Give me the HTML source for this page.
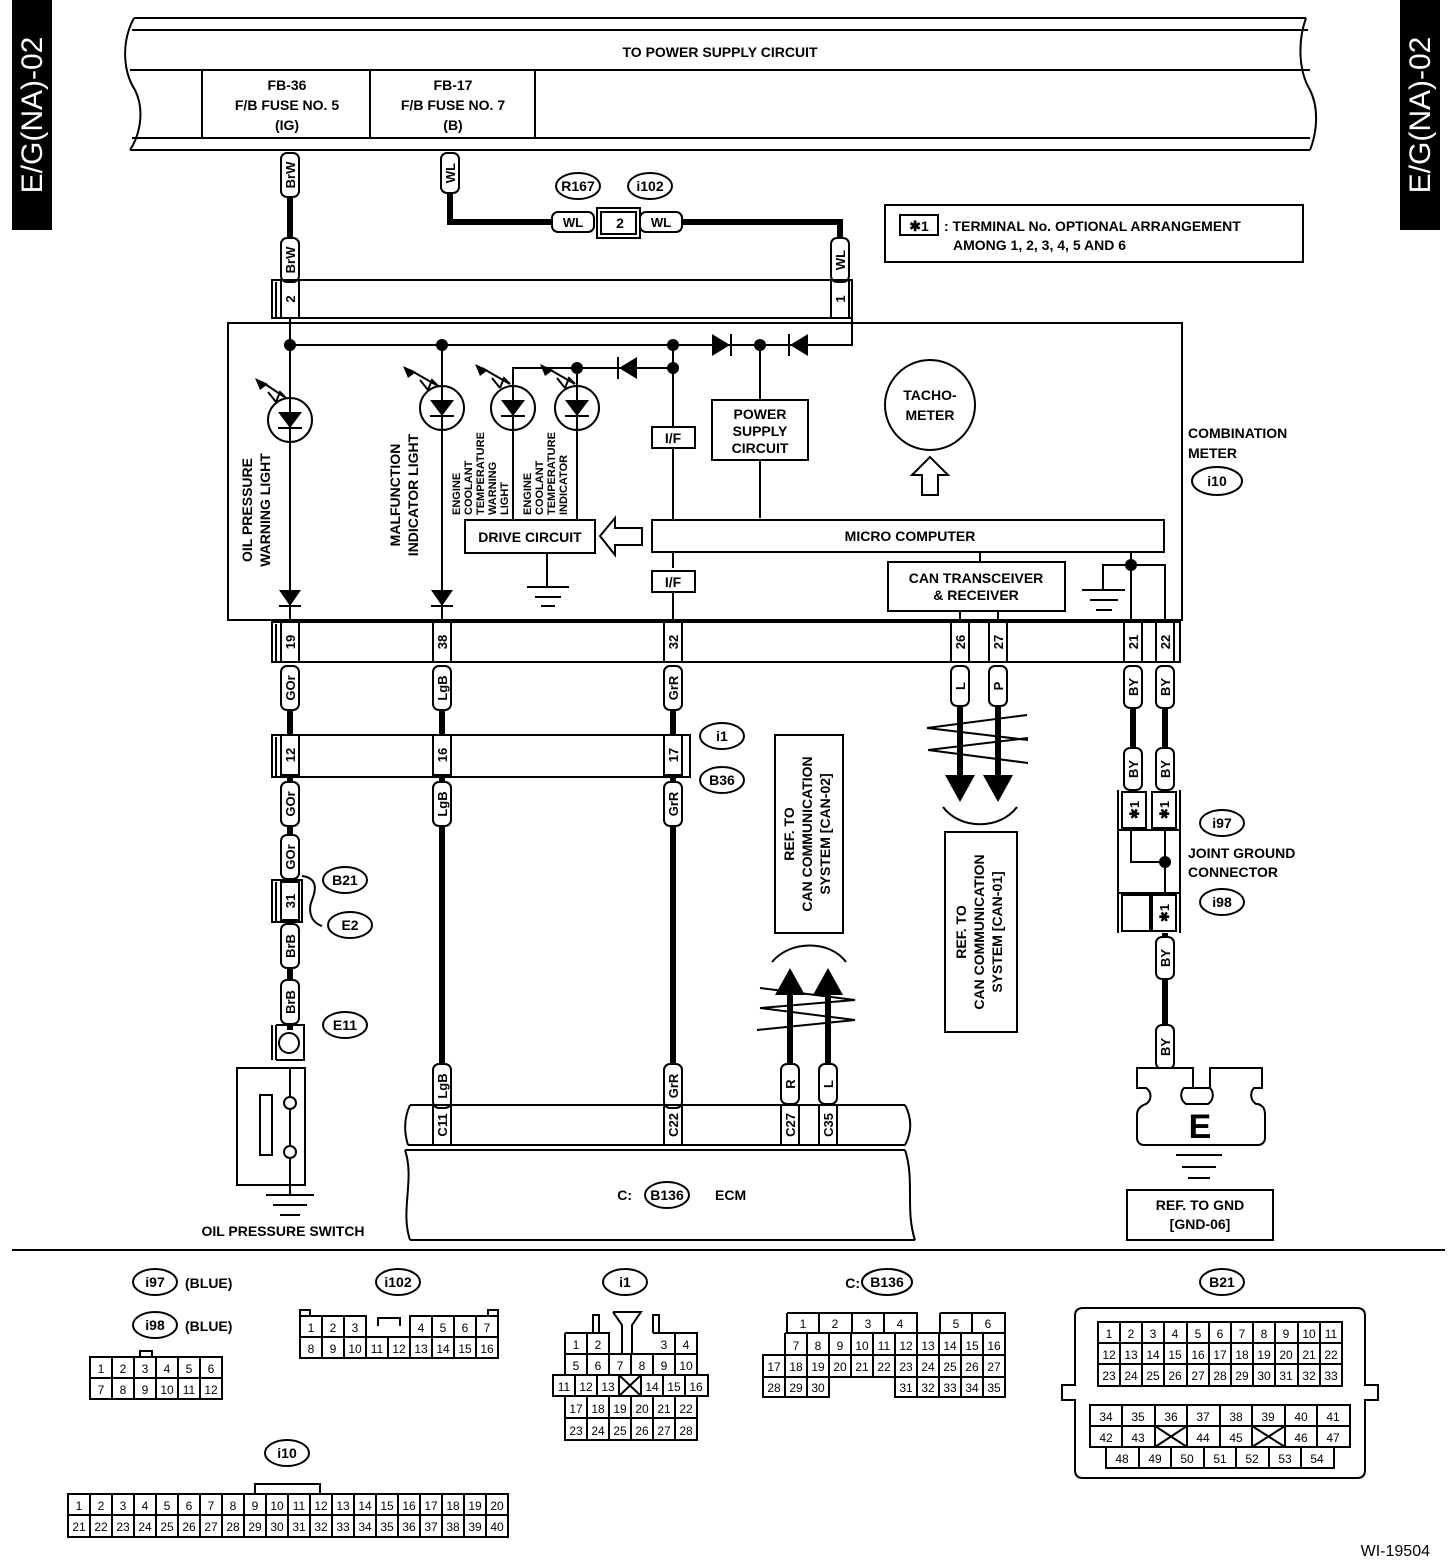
<!DOCTYPE html>
<html><head><meta charset="utf-8"><style>
html,body{margin:0;padding:0;background:#fff}
svg{display:block}
text{font-family:"Liberation Sans",Arial,sans-serif;font-weight:bold;font-size:14px;fill:#000}
.s{fill:none;stroke:#000;stroke-width:2}
.w{fill:#fff;stroke:#000;stroke-width:2}
.t{fill:none;stroke:#000;stroke-width:6}
.c text{font-size:12px;font-weight:normal}
.p{font-size:13px}
</style></head><body>
<svg width="1456" height="1566" viewBox="0 0 1456 1566" xmlns="http://www.w3.org/2000/svg">
<!-- side tabs -->
<rect x="12" y="0" width="40" height="230" fill="#000"/>
<text transform="translate(42,115) rotate(-90)" text-anchor="middle" style="fill:#fff;font-size:30px;font-weight:normal">E/G(NA)-02</text>
<rect x="1400" y="0" width="40" height="230" fill="#000"/>
<text transform="translate(1430,115) rotate(-90)" text-anchor="middle" style="fill:#fff;font-size:30px;font-weight:normal">E/G(NA)-02</text>

<!-- top power box -->
<path class="s" d="M134,18 L1306,18 M132,30 L1308,30 M130,70 L1310,70 M132,138 L1310,138 M130,150 L1310,150"/>
<path class="s" d="M134,18 C122,40 122,70 135,90 C145,110 140,135 130,150"/>
<path class="s" d="M1306,18 C1298,40 1298,70 1310,90 C1320,110 1316,135 1310,150"/>
<path class="s" d="M202,70 V138 M370,70 V138 M535,70 V138"/>
<text x="720" y="57" text-anchor="middle">TO POWER SUPPLY CIRCUIT</text>
<text x="287" y="90" text-anchor="middle">FB-36</text>
<text x="287" y="110" text-anchor="middle">F/B FUSE NO. 5</text>
<text x="287" y="130" text-anchor="middle">(IG)</text>
<text x="453" y="90" text-anchor="middle">FB-17</text>
<text x="453" y="110" text-anchor="middle">F/B FUSE NO. 7</text>
<text x="453" y="130" text-anchor="middle">(B)</text>

<!-- top wires -->
<path class="t" d="M290,190 V245"/>
<path class="t" d="M450,190 V222 H555"/>
<path class="t" d="M682,222 H840 V245"/>
<g>
<rect class="w" x="281" y="153" width="18" height="44" rx="6"/><text class="p" transform="translate(295,175) rotate(-90)" text-anchor="middle">BrW</text>
<rect class="w" x="281" y="238" width="18" height="44" rx="6"/><text class="p" transform="translate(295,260) rotate(-90)" text-anchor="middle">BrW</text>
<rect class="w" x="441" y="153" width="18" height="40" rx="6"/><text class="p" transform="translate(455,173) rotate(-90)" text-anchor="middle">WL</text>
<rect class="w" x="831" y="238" width="18" height="44" rx="6"/><text class="p" transform="translate(845,260) rotate(-90)" text-anchor="middle">WL</text>
<rect class="w" x="552" y="212" width="42" height="20" rx="6"/><text class="p" x="573" y="227" text-anchor="middle">WL</text>
<rect class="w" x="640" y="212" width="42" height="20" rx="6"/><text class="p" x="661" y="227" text-anchor="middle">WL</text>
<rect class="w" x="597" y="208" width="43" height="30"/><rect class="s" x="601" y="212" width="35" height="22"/><text x="620" y="228" text-anchor="middle">2</text>
</g>
<ellipse class="w" cx="578" cy="186" rx="22" ry="13"/><text x="578" y="191" text-anchor="middle">R167</text>
<ellipse class="w" cx="650" cy="186" rx="22" ry="13"/><text x="650" y="191" text-anchor="middle">i102</text>

<!-- note -->
<rect class="s" x="885" y="205" width="418" height="57"/>
<rect class="s" x="900" y="215" width="38" height="20"/><text x="919" y="231" text-anchor="middle">✱1</text>
<text x="944" y="231">: TERMINAL No. OPTIONAL ARRANGEMENT</text>
<text x="953" y="250">AMONG 1, 2, 3, 4, 5 AND 6</text>

<!-- upper connector -->
<path class="s" d="M272,280 H852 V318 H272 Z M276,282 V318"/>
<rect class="s" x="281" y="280" width="18" height="38"/><text class="p" transform="translate(295,299) rotate(-90)" text-anchor="middle">2</text>
<rect class="s" x="831" y="280" width="18" height="38"/><text class="p" transform="translate(845,299) rotate(-90)" text-anchor="middle">1</text>

<!-- combination meter -->
<rect class="s" x="228" y="323" width="954" height="297"/>
<path class="s" d="M290,318 V598 M290,345 H852 V318 M442,345 V598 M673,345 V568 M673,593 V622 M760,345 V518 M673,368 H513 V520 M577,368 V520"/>
<circle cx="290" cy="345" r="6"/><circle cx="442" cy="345" r="6"/><circle cx="673" cy="345" r="6"/><circle cx="760" cy="345" r="6"/>
<circle cx="577" cy="368" r="6"/><circle cx="673" cy="368" r="6"/>
<!-- diodes -->
<path d="M712,334 L712,356 L730,345 Z"/><path class="s" d="M731,334 V356"/>
<path d="M808,334 L808,356 L790,345 Z"/><path class="s" d="M789,334 V356"/>
<path d="M637,357 L637,379 L619,368 Z"/><path class="s" d="M618,357 V379"/>
<!-- LEDs -->
<g>
<circle class="w" cx="290" cy="420" r="22"/><path d="M278,412 H302 L290,428 Z"/><path class="s" d="M278,428 H302"/>
<circle class="w" cx="442" cy="408" r="22"/><path d="M430,400 H454 L442,416 Z"/><path class="s" d="M430,416 H454"/>
<circle class="w" cx="513" cy="408" r="22"/><path d="M501,400 H525 L513,416 Z"/><path class="s" d="M501,416 H525"/>
<circle class="w" cx="577" cy="408" r="22"/><path d="M565,400 H589 L577,416 Z"/><path class="s" d="M565,416 H589"/>
<path class="s" d="M290,398 V442 M442,386 V430 M513,386 V430 M577,386 V430"/>
</g>
<g class="s">
<path d="M276,402 L268,392 M276,402 L280,392 L286,398 L262,382"/>
<path d="M428,390 L420,380 M428,390 L432,380 L438,386 L410,370"/>
<path d="M500,388 L492,378 M500,388 L504,378 L510,384 L482,368"/>
<path d="M565,388 L557,378 M565,388 L569,378 L575,384 L547,368"/>
</g>
<path d="M255,378 L268,384 L260,390 Z"/><path d="M403,366 L416,372 L408,378 Z"/><path d="M475,364 L488,370 L480,376 Z"/><path d="M540,364 L553,370 L545,376 Z"/>
<!-- arrows down (diodes) at bottom -->
<path d="M279,590 H301 L290,606 Z"/><path class="s" d="M279,606 H301"/>
<path d="M431,590 H453 L442,606 Z"/><path class="s" d="M431,606 H453"/>
<path class="s" d="M290,606 V622 M442,606 V622"/>
<!-- vertical labels -->
<text transform="translate(252,510) rotate(-90)" text-anchor="middle">OIL PRESSURE</text>
<text transform="translate(270,510) rotate(-90)" text-anchor="middle">WARNING LIGHT</text>
<text transform="translate(400,495) rotate(-90)" text-anchor="middle">MALFUNCTION</text>
<text transform="translate(418,495) rotate(-90)" text-anchor="middle">INDICATOR LIGHT</text>
<g style="font-size:11px">
<text transform="translate(460,515) rotate(-90)" style="font-size:11px">ENGINE</text>
<text transform="translate(472,515) rotate(-90)" style="font-size:11px">COOLANT</text>
<text transform="translate(484,515) rotate(-90)" style="font-size:11px">TEMPERATURE</text>
<text transform="translate(496,515) rotate(-90)" style="font-size:11px">WARNING</text>
<text transform="translate(508,515) rotate(-90)" style="font-size:11px">LIGHT</text>
<text transform="translate(531,515) rotate(-90)" style="font-size:11px">ENGINE</text>
<text transform="translate(543,515) rotate(-90)" style="font-size:11px">COOLANT</text>
<text transform="translate(555,515) rotate(-90)" style="font-size:11px">TEMPERATURE</text>
<text transform="translate(567,515) rotate(-90)" style="font-size:11px">INDICATOR</text>
</g>
<rect class="w" x="465" y="520" width="130" height="33"/><text x="530" y="542" text-anchor="middle">DRIVE CIRCUIT</text>
<path class="s" d="M547,553 V587 M527,587 H569 M535,597 H561 M541,606 H555"/>
<path class="w" d="M600,536 L615,518 V528 H642 V545 H615 V555 Z"/>
<rect class="w" x="652" y="427" width="43" height="21"/><text x="673" y="443" text-anchor="middle">I/F</text>
<rect class="w" x="652" y="571" width="43" height="21"/><text x="673" y="587" text-anchor="middle">I/F</text>
<rect class="w" x="652" y="520" width="512" height="32"/><text x="910" y="541" text-anchor="middle">MICRO COMPUTER</text>
<rect class="w" x="712" y="400" width="96" height="60"/>
<text x="760" y="419" text-anchor="middle">POWER</text><text x="760" y="436" text-anchor="middle">SUPPLY</text><text x="760" y="453" text-anchor="middle">CIRCUIT</text>
<circle class="w" cx="930" cy="405" r="45"/>
<text x="930" y="400" text-anchor="middle">TACHO-</text><text x="930" y="420" text-anchor="middle">METER</text>
<path class="w" d="M930,457 L912,475 H922 V495 H938 V475 H948 Z"/>
<rect class="w" x="888" y="562" width="177" height="49"/>
<text x="976" y="583" text-anchor="middle">CAN TRANSCEIVER</text><text x="976" y="600" text-anchor="middle">&amp; RECEIVER</text>
<path class="s" d="M980,552 V562 M960,611 V622 M998,611 V622"/>
<path class="s" d="M1131,552 V622 M1131,565 H1165 V622 M1131,565 H1103 V590 M1082,590 H1125 M1090,600 H1118 M1096,610 H1112"/>
<circle cx="1131" cy="565" r="6"/>
<text x="1188" y="438">COMBINATION</text><text x="1188" y="458">METER</text>
<ellipse class="w" cx="1217" cy="481" rx="25" ry="14"/><text x="1217" y="486" text-anchor="middle">i10</text>

<!-- lower meter connector -->
<path class="s" d="M272,622 H1180 V662 H272 Z M276,624 V662"/>
<g>
<rect class="s" x="281" y="622" width="18" height="40"/><text class="p" transform="translate(295,642) rotate(-90)" text-anchor="middle">19</text>
<rect class="s" x="433" y="622" width="18" height="40"/><text class="p" transform="translate(447,642) rotate(-90)" text-anchor="middle">38</text>
<rect class="s" x="664" y="622" width="18" height="40"/><text class="p" transform="translate(678,642) rotate(-90)" text-anchor="middle">32</text>
<rect class="s" x="951" y="622" width="18" height="40"/><text class="p" transform="translate(965,642) rotate(-90)" text-anchor="middle">26</text>
<rect class="s" x="989" y="622" width="18" height="40"/><text class="p" transform="translate(1003,642) rotate(-90)" text-anchor="middle">27</text>
<rect class="s" x="1124" y="622" width="18" height="40"/><text class="p" transform="translate(1138,642) rotate(-90)" text-anchor="middle">21</text>
<rect class="s" x="1156" y="622" width="18" height="40"/><text class="p" transform="translate(1170,642) rotate(-90)" text-anchor="middle">22</text>
</g>

<!-- wires middle -->
<path class="t" d="M290,700 V735 M290,777 V1030 M442,700 V735 M442,777 V1105 M673,700 V735 M673,777 V1105 M1133,700 V760 M1165,700 V760 M1165,980 V1030"/>
<g>
<rect class="w" x="281" y="666" width="18" height="44" rx="6"/><text class="p" transform="translate(295,688) rotate(-90)" text-anchor="middle">GOr</text>
<rect class="w" x="433" y="666" width="18" height="44" rx="6"/><text class="p" transform="translate(447,688) rotate(-90)" text-anchor="middle">LgB</text>
<rect class="w" x="664" y="666" width="18" height="44" rx="6"/><text class="p" transform="translate(678,688) rotate(-90)" text-anchor="middle">GrR</text>
<rect class="w" x="951" y="666" width="18" height="40" rx="6"/><text class="p" transform="translate(965,686) rotate(-90)" text-anchor="middle">L</text>
<rect class="w" x="989" y="666" width="18" height="40" rx="6"/><text class="p" transform="translate(1003,686) rotate(-90)" text-anchor="middle">P</text>
<rect class="w" x="1124" y="666" width="18" height="42" rx="6"/><text class="p" transform="translate(1138,687) rotate(-90)" text-anchor="middle">BY</text>
<rect class="w" x="1156" y="666" width="18" height="42" rx="6"/><text class="p" transform="translate(1170,687) rotate(-90)" text-anchor="middle">BY</text>
</g>
<!-- i1/B36 connector -->
<path class="s" d="M272,735 H690 V777 H272 Z M276,737 V777"/>
<rect class="s" x="281" y="735" width="18" height="40"/><text class="p" transform="translate(295,755) rotate(-90)" text-anchor="middle">12</text>
<rect class="s" x="433" y="735" width="18" height="40"/><text class="p" transform="translate(447,755) rotate(-90)" text-anchor="middle">16</text>
<rect class="s" x="664" y="735" width="18" height="40"/><text class="p" transform="translate(678,755) rotate(-90)" text-anchor="middle">17</text>
<ellipse class="w" cx="722" cy="736" rx="22" ry="13"/><text x="722" y="741" text-anchor="middle">i1</text>
<ellipse class="w" cx="722" cy="780" rx="22" ry="13"/><text x="722" y="785" text-anchor="middle">B36</text>
<g>
<rect class="w" x="281" y="782" width="18" height="44" rx="6"/><text class="p" transform="translate(295,804) rotate(-90)" text-anchor="middle">GOr</text>
<rect class="w" x="433" y="782" width="18" height="44" rx="6"/><text class="p" transform="translate(447,804) rotate(-90)" text-anchor="middle">LgB</text>
<rect class="w" x="664" y="782" width="18" height="44" rx="6"/><text class="p" transform="translate(678,804) rotate(-90)" text-anchor="middle">GrR</text>
<rect class="w" x="281" y="835" width="18" height="44" rx="6"/><text class="p" transform="translate(295,857) rotate(-90)" text-anchor="middle">GOr</text>
</g>
<!-- B21/E2 -->
<path class="w" d="M272,880 H302 V922 H272 Z"/><path class="s" d="M276,882 V922"/>
<rect class="s" x="281" y="882" width="18" height="38"/><text class="p" transform="translate(295,901) rotate(-90)" text-anchor="middle">31</text>
<path class="s" d="M302,876 C318,878 316,890 312,900 C308,910 310,922 322,926"/>
<ellipse class="w" cx="345" cy="880" rx="22" ry="13"/><text x="345" y="885" text-anchor="middle">B21</text>
<ellipse class="w" cx="350" cy="925" rx="22" ry="13"/><text x="350" y="930" text-anchor="middle">E2</text>
<rect class="w" x="281" y="924" width="18" height="44" rx="6"/><text class="p" transform="translate(295,946) rotate(-90)" text-anchor="middle">BrB</text>
<rect class="w" x="281" y="980" width="18" height="44" rx="6"/><text class="p" transform="translate(295,1002) rotate(-90)" text-anchor="middle">BrB</text>
<ellipse class="w" cx="345" cy="1025" rx="22" ry="13"/><text x="345" y="1030" text-anchor="middle">E11</text>
<!-- oil pressure switch -->
<path class="s" d="M272,1025 V1060 M276,1025 V1060 M276,1025 H304 V1060 H276"/>
<circle class="s" cx="289" cy="1043" r="10"/>
<rect class="s" x="237" y="1068" width="68" height="117"/>
<rect class="s" x="260" y="1095" width="12" height="60"/>
<path class="s" d="M290,1068 V1097 M290,1109 V1146 M290,1158 V1195 M266,1195 H314 M273,1205 H307 M280,1215 H300"/>
<circle class="w" cx="290" cy="1103" r="6"/><circle class="w" cx="290" cy="1152" r="6"/>
<text x="283" y="1236" text-anchor="middle">OIL PRESSURE SWITCH</text>

<!-- ECM -->
<g>
<rect class="w" x="433" y="1064" width="18" height="44" rx="6"/><text class="p" transform="translate(447,1086) rotate(-90)" text-anchor="middle">LgB</text>
<rect class="w" x="664" y="1064" width="18" height="44" rx="6"/><text class="p" transform="translate(678,1086) rotate(-90)" text-anchor="middle">GrR</text>
<rect class="w" x="781" y="1064" width="18" height="40" rx="6"/><text class="p" transform="translate(795,1084) rotate(-90)" text-anchor="middle">R</text>
<rect class="w" x="819" y="1064" width="18" height="40" rx="6"/><text class="p" transform="translate(833,1084) rotate(-90)" text-anchor="middle">L</text>
</g>
<path class="s" d="M410,1105 H905 M408,1145 H905 M410,1105 C404,1118 404,1132 408,1145 M905,1105 C912,1118 912,1132 905,1145"/>
<rect class="s" x="433" y="1105" width="18" height="40"/><text class="p" transform="translate(447,1125) rotate(-90)" text-anchor="middle">C11</text>
<rect class="s" x="664" y="1105" width="18" height="40"/><text class="p" transform="translate(678,1125) rotate(-90)" text-anchor="middle">C22</text>
<rect class="s" x="781" y="1105" width="18" height="40"/><text class="p" transform="translate(795,1125) rotate(-90)" text-anchor="middle">C27</text>
<rect class="s" x="819" y="1105" width="18" height="40"/><text class="p" transform="translate(833,1125) rotate(-90)" text-anchor="middle">C35</text>
<path class="s" d="M405,1150 H905 M410,1240 H915 M405,1150 C415,1180 400,1210 410,1240 M905,1150 C915,1180 905,1210 915,1240"/>
<text x="632" y="1200" text-anchor="end">C:</text>
<ellipse class="w" cx="667" cy="1195" rx="22" ry="13"/><text x="667" y="1200" text-anchor="middle">B136</text>
<text x="715" y="1200">ECM</text>

<!-- CAN arrows up -->
<path class="t" d="M790,1064 V990 M828,1064 V990"/>
<path d="M775,995 L790,968 L805,995 Z M813,995 L828,968 L843,995 Z"/>
<path class="s" d="M757,1030 L855,1020 L760,1008 L855,1000 L760,988"/>
<path class="s" d="M772,962 C790,940 830,940 846,962"/>
<rect class="s" x="775" y="735" width="68" height="198"/>
<text transform="translate(794,834) rotate(-90)" text-anchor="middle">REF. TO</text>
<text transform="translate(812,834) rotate(-90)" text-anchor="middle">CAN COMMUNICATION</text>
<text transform="translate(830,834) rotate(-90)" text-anchor="middle">SYSTEM [CAN-02]</text>
<!-- CAN arrows down -->
<path class="t" d="M960,706 V780 M998,706 V780"/>
<path d="M945,775 L960,802 L975,775 Z M983,775 L998,802 L1013,775 Z"/>
<path class="s" d="M927,728 L1027,715 M927,728 L1028,740 M928,750 L1028,738 M928,750 L1028,763"/>
<path class="s" d="M943,807 C960,830 1000,830 1017,807"/>
<rect class="s" x="945" y="832" width="72" height="200"/>
<text transform="translate(966,932) rotate(-90)" text-anchor="middle">REF. TO</text>
<text transform="translate(984,932) rotate(-90)" text-anchor="middle">CAN COMMUNICATION</text>
<text transform="translate(1002,932) rotate(-90)" text-anchor="middle">SYSTEM [CAN-01]</text>

<!-- joint ground -->
<rect class="w" x="1124" y="748" width="18" height="42" rx="6"/><text class="p" transform="translate(1138,769) rotate(-90)" text-anchor="middle">BY</text>
<rect class="w" x="1156" y="748" width="18" height="42" rx="6"/><text class="p" transform="translate(1170,769) rotate(-90)" text-anchor="middle">BY</text>
<path class="s" d="M1118,790 V933 M1180,790 V933 M1118,830 H1180 M1118,893 H1180"/>
<rect class="s" x="1122" y="792" width="24" height="36"/><rect class="s" x="1152" y="792" width="24" height="36"/>
<text class="p" transform="translate(1139,810) rotate(-90)" text-anchor="middle">✱1</text>
<text class="p" transform="translate(1169,810) rotate(-90)" text-anchor="middle">✱1</text>
<path class="s" d="M1131,830 V862 H1165 M1165,830 V893"/>
<circle cx="1165" cy="862" r="6"/>
<rect class="s" x="1122" y="895" width="28" height="36"/><rect class="s" x="1152" y="895" width="24" height="36"/>
<text class="p" transform="translate(1169,913) rotate(-90)" text-anchor="middle">✱1</text>
<path class="t" d="M1165,933 V940"/>
<ellipse class="w" cx="1222" cy="823" rx="22" ry="13"/><text x="1222" y="828" text-anchor="middle">i97</text>
<text x="1188" y="858">JOINT GROUND</text><text x="1188" y="877">CONNECTOR</text>
<ellipse class="w" cx="1222" cy="902" rx="22" ry="13"/><text x="1222" y="907" text-anchor="middle">i98</text>
<rect class="w" x="1156" y="937" width="18" height="42" rx="6"/><text class="p" transform="translate(1170,958) rotate(-90)" text-anchor="middle">BY</text>
<rect class="w" x="1156" y="1025" width="18" height="44" rx="6"/><text class="p" transform="translate(1170,1047) rotate(-90)" text-anchor="middle">BY</text>
<path class="w" d="M1137,1068 H1193 V1088 H1184 C1180,1092 1180,1100 1186,1104 H1208 C1214,1100 1214,1092 1210,1088 H1210 V1068 H1262 V1088 H1254 C1250,1092 1250,1100 1256,1104 H1258 C1264,1106 1265,1110 1265,1115 V1138 C1265,1142 1262,1145 1258,1145 H1144 C1140,1145 1137,1142 1137,1138 V1115 C1137,1110 1140,1106 1146,1104 C1152,1100 1152,1092 1146,1088 H1137 Z"/>
<path class="s" d="M1184,1088 H1210"/>
<text x="1200" y="1138" text-anchor="middle" style="font-size:34px">E</text>
<path class="s" d="M1176,1155 H1222 M1182,1167 H1216 M1188,1178 H1210"/>
<rect class="s" x="1127" y="1190" width="146" height="50"/>
<text x="1200" y="1210" text-anchor="middle">REF. TO GND</text><text x="1200" y="1229" text-anchor="middle">[GND-06]</text>

<!-- separator -->
<path class="s" d="M12,1250 H1445"/>

<!-- connector views -->
<g class="c">
<ellipse class="w" cx="155" cy="1282" rx="22" ry="13"/><text x="155" y="1287" text-anchor="middle" style="font-size:14px;font-weight:bold">i97</text><text x="185" y="1288" style="font-size:14px;font-weight:bold">(BLUE)</text>
<ellipse class="w" cx="155" cy="1325" rx="22" ry="13"/><text x="155" y="1330" text-anchor="middle" style="font-size:14px;font-weight:bold">i98</text><text x="185" y="1331" style="font-size:14px;font-weight:bold">(BLUE)</text>
<rect class="s" x="140" y="1351" width="12" height="6"/>
<rect class="s" x="90" y="1357" width="132" height="42"/><path class="s" d="M90,1378 H222 M112,1357 V1399 M134,1357 V1399 M156,1357 V1399 M178,1357 V1399 M200,1357 V1399"/>
<text x="101" y="1373" text-anchor="middle">1</text><text x="123" y="1373" text-anchor="middle">2</text><text x="145" y="1373" text-anchor="middle">3</text><text x="167" y="1373" text-anchor="middle">4</text><text x="189" y="1373" text-anchor="middle">5</text><text x="211" y="1373" text-anchor="middle">6</text>
<text x="101" y="1394" text-anchor="middle">7</text><text x="123" y="1394" text-anchor="middle">8</text><text x="145" y="1394" text-anchor="middle">9</text><text x="167" y="1394" text-anchor="middle">10</text><text x="189" y="1394" text-anchor="middle">11</text><text x="211" y="1394" text-anchor="middle">12</text>

<ellipse class="w" cx="398" cy="1282" rx="22" ry="13"/><text x="398" y="1287" text-anchor="middle" style="font-size:14px;font-weight:bold">i102</text>
<path class="s" d="M300,1316 V1310 H310 V1316 M488,1316 V1310 H498 V1316 M378,1326 V1318 H400 V1326"/>
<path class="s" d="M300,1316 H366 V1337 M300,1316 V1358 H498 V1316 H410 V1337 M300,1337 H498 M322,1316 V1358 M344,1316 V1358 M366,1337 V1358 M388,1337 V1358 M410,1337 V1358 M432,1316 V1358 M454,1316 V1358 M476,1316 V1358"/>
<text x="311" y="1332" text-anchor="middle">1</text><text x="333" y="1332" text-anchor="middle">2</text><text x="355" y="1332" text-anchor="middle">3</text><text x="421" y="1332" text-anchor="middle">4</text><text x="443" y="1332" text-anchor="middle">5</text><text x="465" y="1332" text-anchor="middle">6</text><text x="487" y="1332" text-anchor="middle">7</text>
<text x="311" y="1353" text-anchor="middle">8</text><text x="333" y="1353" text-anchor="middle">9</text><text x="355" y="1353" text-anchor="middle">10</text><text x="377" y="1353" text-anchor="middle">11</text><text x="399" y="1353" text-anchor="middle">12</text><text x="421" y="1353" text-anchor="middle">13</text><text x="443" y="1353" text-anchor="middle">14</text><text x="465" y="1353" text-anchor="middle">15</text><text x="487" y="1353" text-anchor="middle">16</text>

<ellipse class="w" cx="625" cy="1282" rx="22" ry="13"/><text x="625" y="1287" text-anchor="middle" style="font-size:14px;font-weight:bold">i1</text>
<path class="s" d="M593,1333 V1315 H599 V1333 M653,1333 V1315 H659 V1333 M613,1312 H641 L632,1325 V1354 M613,1312 L622,1325 V1354"/>
<path class="s" d="M565,1333 H609 V1354 M565,1333 V1375 M587,1333 V1375 M653,1333 H697 V1375 M675,1333 V1375 M565,1354 H697 M565,1375 H697"/>
<path class="s" d="M609,1354 V1375 M631,1354 V1375 M653,1354 V1375"/>
<path class="s" d="M553,1375 H708 V1396 H553 Z M575,1375 V1396 M597,1375 V1396 M619,1375 V1396 M641,1375 V1396 M663,1375 V1396 M685,1375 V1396 M619,1375 L641,1396 M641,1375 L619,1396"/>
<path class="s" d="M565,1396 H697 V1440 H565 Z M565,1418 H697 M587,1396 V1440 M609,1396 V1440 M631,1396 V1440 M653,1396 V1440 M675,1396 V1440"/>
<text x="576" y="1349" text-anchor="middle">1</text><text x="598" y="1349" text-anchor="middle">2</text><text x="664" y="1349" text-anchor="middle">3</text><text x="686" y="1349" text-anchor="middle">4</text>
<text x="576" y="1370" text-anchor="middle">5</text><text x="598" y="1370" text-anchor="middle">6</text><text x="620" y="1370" text-anchor="middle">7</text><text x="642" y="1370" text-anchor="middle">8</text><text x="664" y="1370" text-anchor="middle">9</text><text x="686" y="1370" text-anchor="middle">10</text>
<text x="564" y="1391" text-anchor="middle">11</text><text x="586" y="1391" text-anchor="middle">12</text><text x="608" y="1391" text-anchor="middle">13</text><text x="652" y="1391" text-anchor="middle">14</text><text x="674" y="1391" text-anchor="middle">15</text><text x="696" y="1391" text-anchor="middle">16</text>
<text x="576" y="1413" text-anchor="middle">17</text><text x="598" y="1413" text-anchor="middle">18</text><text x="620" y="1413" text-anchor="middle">19</text><text x="642" y="1413" text-anchor="middle">20</text><text x="664" y="1413" text-anchor="middle">21</text><text x="686" y="1413" text-anchor="middle">22</text>
<text x="576" y="1435" text-anchor="middle">23</text><text x="598" y="1435" text-anchor="middle">24</text><text x="620" y="1435" text-anchor="middle">25</text><text x="642" y="1435" text-anchor="middle">26</text><text x="664" y="1435" text-anchor="middle">27</text><text x="686" y="1435" text-anchor="middle">28</text>

<text x="860" y="1288" text-anchor="end" style="font-size:14px;font-weight:bold">C:</text>
<ellipse class="w" cx="887" cy="1282" rx="25" ry="13"/><text x="887" y="1287" text-anchor="middle" style="font-size:14px;font-weight:bold">B136</text>
<path class="s" d="M787,1313 H917 V1333 M787,1313 V1333 M819,1313 V1333 M852,1313 V1333 M884,1313 V1333 M940,1313 H1005 V1333 M940,1313 V1333 M972,1313 V1333"/>
<path class="s" d="M785,1333 H1005 V1355 M785,1333 V1355 M763,1355 H1005 V1377 H763 Z M763,1377 V1397 H829 V1377 M895,1377 V1397 H1005 V1377"/>
<path class="s" d="M807,1333 V1377 M829,1333 V1377 M851,1333 V1377 M873,1333 V1377 M895,1333 V1377 M917,1333 V1377 M939,1333 V1377 M961,1333 V1377 M983,1333 V1377 M785,1355 V1397 M807,1377 V1397 M917,1377 V1397 M939,1377 V1397 M961,1377 V1397 M983,1377 V1397"/>
<text x="803" y="1328" text-anchor="middle">1</text><text x="835" y="1328" text-anchor="middle">2</text><text x="868" y="1328" text-anchor="middle">3</text><text x="900" y="1328" text-anchor="middle">4</text><text x="956" y="1328" text-anchor="middle">5</text><text x="988" y="1328" text-anchor="middle">6</text>
<text x="796" y="1350" text-anchor="middle">7</text><text x="818" y="1350" text-anchor="middle">8</text><text x="840" y="1350" text-anchor="middle">9</text><text x="862" y="1350" text-anchor="middle">10</text><text x="884" y="1350" text-anchor="middle">11</text><text x="906" y="1350" text-anchor="middle">12</text><text x="928" y="1350" text-anchor="middle">13</text><text x="950" y="1350" text-anchor="middle">14</text><text x="972" y="1350" text-anchor="middle">15</text><text x="994" y="1350" text-anchor="middle">16</text>
<text x="774" y="1371" text-anchor="middle">17</text><text x="796" y="1371" text-anchor="middle">18</text><text x="818" y="1371" text-anchor="middle">19</text><text x="840" y="1371" text-anchor="middle">20</text><text x="862" y="1371" text-anchor="middle">21</text><text x="884" y="1371" text-anchor="middle">22</text><text x="906" y="1371" text-anchor="middle">23</text><text x="928" y="1371" text-anchor="middle">24</text><text x="950" y="1371" text-anchor="middle">25</text><text x="972" y="1371" text-anchor="middle">26</text><text x="994" y="1371" text-anchor="middle">27</text>
<text x="774" y="1392" text-anchor="middle">28</text><text x="796" y="1392" text-anchor="middle">29</text><text x="818" y="1392" text-anchor="middle">30</text><text x="906" y="1392" text-anchor="middle">31</text><text x="928" y="1392" text-anchor="middle">32</text><text x="950" y="1392" text-anchor="middle">33</text><text x="972" y="1392" text-anchor="middle">34</text><text x="994" y="1392" text-anchor="middle">35</text>

<ellipse class="w" cx="1222" cy="1282" rx="22" ry="13"/><text x="1222" y="1287" text-anchor="middle" style="font-size:14px;font-weight:bold">B21</text>
<path class="s" d="M1083,1308 H1357 Q1365,1308 1365,1316 V1385 H1378 V1400 H1365 V1470 Q1365,1478 1357,1478 H1083 Q1075,1478 1075,1470 V1400 H1062 V1385 H1075 V1316 Q1075,1308 1083,1308 Z"/>
<path class="s" d="M1098,1322 H1342 V1386 H1098 Z M1098,1343 H1342 M1098,1364 H1342 M1120,1322 V1386 M1142,1322 V1386 M1164,1322 V1386 M1187,1322 V1386 M1209,1322 V1386 M1231,1322 V1386 M1253,1322 V1386 M1275,1322 V1386 M1298,1322 V1386 M1320,1322 V1386"/>
<path class="s" d="M1090,1405 H1350 V1447 H1090 Z M1090,1426 H1350 M1122,1405 V1447 M1155,1405 V1447 M1187,1405 V1447 M1220,1405 V1447 M1252,1405 V1447 M1285,1405 V1447 M1317,1405 V1447 M1155,1426 L1187,1447 M1187,1426 L1155,1447 M1252,1426 L1285,1447 M1285,1426 L1252,1447"/>
<path class="s" d="M1106,1447 V1468 H1334 V1447 M1139,1447 V1468 M1171,1447 V1468 M1204,1447 V1468 M1236,1447 V1468 M1269,1447 V1468 M1301,1447 V1468"/>
<text x="1109" y="1338" text-anchor="middle">1</text><text x="1131" y="1338" text-anchor="middle">2</text><text x="1153" y="1338" text-anchor="middle">3</text><text x="1175" y="1338" text-anchor="middle">4</text><text x="1198" y="1338" text-anchor="middle">5</text><text x="1220" y="1338" text-anchor="middle">6</text><text x="1242" y="1338" text-anchor="middle">7</text><text x="1264" y="1338" text-anchor="middle">8</text><text x="1286" y="1338" text-anchor="middle">9</text><text x="1309" y="1338" text-anchor="middle">10</text><text x="1331" y="1338" text-anchor="middle">11</text>
<text x="1109" y="1359" text-anchor="middle">12</text><text x="1131" y="1359" text-anchor="middle">13</text><text x="1153" y="1359" text-anchor="middle">14</text><text x="1175" y="1359" text-anchor="middle">15</text><text x="1198" y="1359" text-anchor="middle">16</text><text x="1220" y="1359" text-anchor="middle">17</text><text x="1242" y="1359" text-anchor="middle">18</text><text x="1264" y="1359" text-anchor="middle">19</text><text x="1286" y="1359" text-anchor="middle">20</text><text x="1309" y="1359" text-anchor="middle">21</text><text x="1331" y="1359" text-anchor="middle">22</text>
<text x="1109" y="1380" text-anchor="middle">23</text><text x="1131" y="1380" text-anchor="middle">24</text><text x="1153" y="1380" text-anchor="middle">25</text><text x="1175" y="1380" text-anchor="middle">26</text><text x="1198" y="1380" text-anchor="middle">27</text><text x="1220" y="1380" text-anchor="middle">28</text><text x="1242" y="1380" text-anchor="middle">29</text><text x="1264" y="1380" text-anchor="middle">30</text><text x="1286" y="1380" text-anchor="middle">31</text><text x="1309" y="1380" text-anchor="middle">32</text><text x="1331" y="1380" text-anchor="middle">33</text>
<text x="1106" y="1421" text-anchor="middle">34</text><text x="1138" y="1421" text-anchor="middle">35</text><text x="1171" y="1421" text-anchor="middle">36</text><text x="1203" y="1421" text-anchor="middle">37</text><text x="1236" y="1421" text-anchor="middle">38</text><text x="1268" y="1421" text-anchor="middle">39</text><text x="1301" y="1421" text-anchor="middle">40</text><text x="1333" y="1421" text-anchor="middle">41</text>
<text x="1106" y="1442" text-anchor="middle">42</text><text x="1138" y="1442" text-anchor="middle">43</text><text x="1203" y="1442" text-anchor="middle">44</text><text x="1236" y="1442" text-anchor="middle">45</text><text x="1301" y="1442" text-anchor="middle">46</text><text x="1333" y="1442" text-anchor="middle">47</text>
<text x="1122" y="1463" text-anchor="middle">48</text><text x="1155" y="1463" text-anchor="middle">49</text><text x="1187" y="1463" text-anchor="middle">50</text><text x="1220" y="1463" text-anchor="middle">51</text><text x="1252" y="1463" text-anchor="middle">52</text><text x="1285" y="1463" text-anchor="middle">53</text><text x="1317" y="1463" text-anchor="middle">54</text>

<ellipse class="w" cx="287" cy="1453" rx="22" ry="13"/><text x="287" y="1458" text-anchor="middle" style="font-size:14px;font-weight:bold">i10</text>
<path class="s" d="M255,1494 V1484 H320 V1494"/>
<path class="s" d="M68,1494 H508 V1537 H68 Z M68,1515 H508 M90,1494 V1537 M112,1494 V1537 M134,1494 V1537 M156,1494 V1537 M178,1494 V1537 M200,1494 V1537 M222,1494 V1537 M244,1494 V1537 M266,1494 V1537 M288,1494 V1537 M310,1494 V1537 M332,1494 V1537 M354,1494 V1537 M376,1494 V1537 M398,1494 V1537 M420,1494 V1537 M442,1494 V1537 M464,1494 V1537 M486,1494 V1537"/>
<text x="79" y="1510" text-anchor="middle">1</text><text x="101" y="1510" text-anchor="middle">2</text><text x="123" y="1510" text-anchor="middle">3</text><text x="145" y="1510" text-anchor="middle">4</text><text x="167" y="1510" text-anchor="middle">5</text><text x="189" y="1510" text-anchor="middle">6</text><text x="211" y="1510" text-anchor="middle">7</text><text x="233" y="1510" text-anchor="middle">8</text><text x="255" y="1510" text-anchor="middle">9</text><text x="277" y="1510" text-anchor="middle">10</text><text x="299" y="1510" text-anchor="middle">11</text><text x="321" y="1510" text-anchor="middle">12</text><text x="343" y="1510" text-anchor="middle">13</text><text x="365" y="1510" text-anchor="middle">14</text><text x="387" y="1510" text-anchor="middle">15</text><text x="409" y="1510" text-anchor="middle">16</text><text x="431" y="1510" text-anchor="middle">17</text><text x="453" y="1510" text-anchor="middle">18</text><text x="475" y="1510" text-anchor="middle">19</text><text x="497" y="1510" text-anchor="middle">20</text>
<text x="79" y="1531" text-anchor="middle">21</text><text x="101" y="1531" text-anchor="middle">22</text><text x="123" y="1531" text-anchor="middle">23</text><text x="145" y="1531" text-anchor="middle">24</text><text x="167" y="1531" text-anchor="middle">25</text><text x="189" y="1531" text-anchor="middle">26</text><text x="211" y="1531" text-anchor="middle">27</text><text x="233" y="1531" text-anchor="middle">28</text><text x="255" y="1531" text-anchor="middle">29</text><text x="277" y="1531" text-anchor="middle">30</text><text x="299" y="1531" text-anchor="middle">31</text><text x="321" y="1531" text-anchor="middle">32</text><text x="343" y="1531" text-anchor="middle">33</text><text x="365" y="1531" text-anchor="middle">34</text><text x="387" y="1531" text-anchor="middle">35</text><text x="409" y="1531" text-anchor="middle">36</text><text x="431" y="1531" text-anchor="middle">37</text><text x="453" y="1531" text-anchor="middle">38</text><text x="475" y="1531" text-anchor="middle">39</text><text x="497" y="1531" text-anchor="middle">40</text>
</g>
<text x="1430" y="1556" text-anchor="end" style="font-weight:normal;font-size:16px">WI-19504</text>
</svg>
</body></html>
